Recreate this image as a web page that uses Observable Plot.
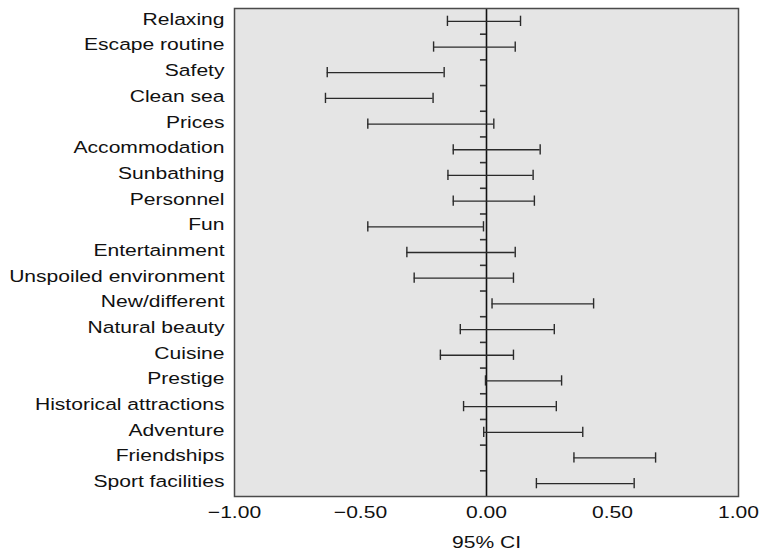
<!DOCTYPE html>
<html>
<head>
<meta charset="utf-8">
<script src="https://cdn.jsdelivr.net/npm/d3@7"></script>
<script src="https://cdn.jsdelivr.net/npm/@observablehq/plot@0.6"></script>
<style>
  html, body { margin: 0; padding: 0; background: #fff; }
  #chart svg { display: block; }
</style>
</head>
<body>
<div id="chart"></div>
<script>
const categories = [
  "Relaxing", "Escape routine", "Safety", "Clean sea", "Prices",
  "Accommodation", "Sunbathing", "Personnel", "Fun", "Entertainment",
  "Unspoiled environment", "New/different", "Natural beauty", "Cuisine",
  "Prestige", "Historical attractions", "Adventure", "Friendships", "Sport facilities"
];
const lower = [-0.155, -0.21, -0.632, -0.639, -0.471, -0.132, -0.153, -0.132, -0.471, -0.316,
               -0.287, 0.022, -0.104, -0.183, -0.004, -0.091, -0.011, 0.347, 0.198];
const upper = [0.135, 0.114, -0.168, -0.212, 0.029, 0.213, 0.185, 0.190, -0.012, 0.114,
               0.107, 0.425, 0.269, 0.107, 0.298, 0.277, 0.382, 0.671, 0.586];
const xTicks = [-1, -0.5, 0, 0.5, 1];
const xLabel = "95% CI";

const rows = categories.map((c, i) => ({name: c, pos: i + 0.5, lo: lower[i], hi: upper[i]}));
const boundaries = d3.range(1, categories.length);
const capHalf = 0.2;
const tickLen = 0.024;

const chart = Plot.plot({
  width: 764,
  height: 554,
  marginLeft: 234,
  marginRight: 26,
  marginTop: 8,
  marginBottom: 58,
  style: {fontFamily: "'Liberation Sans', Arial, Helvetica, sans-serif", fontSize: "17px", background: "#fff", overflow: "visible", color: "#111"},
  x: {domain: [-1, 1]},
  y: {domain: [0, categories.length], reverse: true},
  marks: [
    Plot.frame({fill: "#e5e5e5", stroke: null}),
    Plot.ruleX([0], {stroke: "#111", strokeWidth: 1.6}),
    Plot.ruleY(boundaries, {y: d => d, x1: -tickLen, x2: 0, stroke: "#333", strokeWidth: 1.6}),
    Plot.ruleY(rows, {y: "pos", x1: "lo", x2: "hi", stroke: "#2a2a2a", strokeWidth: 1.3}),
    Plot.ruleX(rows, {x: "lo", y1: d => d.pos - capHalf, y2: d => d.pos + capHalf, stroke: "#2a2a2a", strokeWidth: 1.4}),
    Plot.ruleX(rows, {x: "hi", y1: d => d.pos - capHalf, y2: d => d.pos + capHalf, stroke: "#2a2a2a", strokeWidth: 1.4}),
    Plot.axisY(rows.map(d => d.pos), {tickFormat: d => categories[Math.floor(d)], tickSize: 0, tickPadding: 10, label: null, dy: -2, fill: "#111"}),
    Plot.axisX(xTicks, {tickFormat: d3.format(".2f"), tickSize: 0, tickPadding: 9, label: xLabel, labelAnchor: "center", labelArrow: "none", labelOffset: 51, fill: "#111"}),
    Plot.frame({stroke: "#4a4a4a", strokeWidth: 1.5})
  ]
});

// stretch glyphs horizontally (about each text's anchor) to match the reference's wide lettering
const sx = 1.24;
d3.select(chart).selectAll("text").each(function() {
  const t = d3.select(this);
  const tr = t.attr("transform") || "";
  t.attr("transform", `${tr} scale(${sx},1)`);
});

document.getElementById("chart").appendChild(chart);
</script>
</body>
</html>
